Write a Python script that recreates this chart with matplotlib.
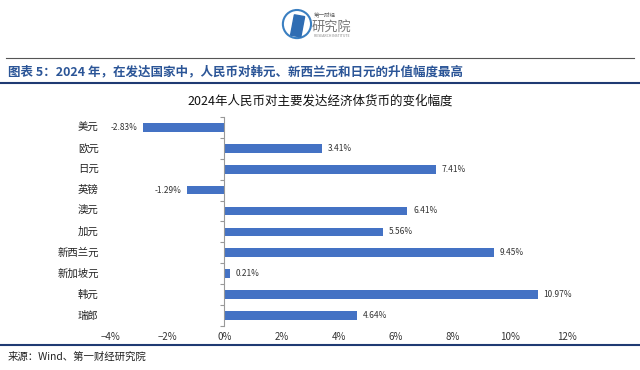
import matplotlib.pyplot as plt
import matplotlib.patches as mpatches
import matplotlib.transforms as mtransforms
from matplotlib.ticker import FixedLocator, FuncFormatter

plt.rcParams['font.family'] = ['Noto Sans CJK SC', 'DejaVu Sans']

currencies = ['美元', '欧元', '日元', '英镑', '澳元', '加元', '新西兰元', '新加坡元', '韩元', '瑞郎']
changes = [-2.83, 3.41, 7.41, -1.29, 6.41, 5.56, 9.45, 0.21, 10.97, 4.64]
x_ticks = [-4, -2, 0, 2, 4, 6, 8, 10, 12]

heading = '图表 5：2024 年，在发达国家中，人民币对韩元、新西兰元和日元的升值幅度最高'
chart_title = '2024年人民币对主要发达经济体货币的变化幅度'
source = '来源：Wind、第一财经研究院'

bar_color = '#4472C4'
navy = '#1F3A73'

fig = plt.figure(figsize=(6.4, 3.7), dpi=100)

# header logo (rough)
logo = mpatches.Ellipse((0.464, 0.935), 0.044, 0.076, transform=fig.transFigure,
                        fill=False, edgecolor='#3a7fc1', linewidth=1.5)
fig.patches.append(logo)
para = mpatches.Polygon([[0.454, 0.905], [0.460, 0.960], [0.476, 0.955], [0.470, 0.900]],
                        closed=True, transform=fig.transFigure, color='#2f6db3')
fig.patches.append(para)
fig.text(0.490, 0.962, '第一财经', fontsize=4, color='#666666', va='center')
fig.text(0.487, 0.927, '研究院', fontsize=9.5, color='#777777', va='center')
fig.text(0.490, 0.903, 'RESEARCH INSTITUTE', fontsize=2.5, color='#888888', va='center')

# separator lines
fig.add_artist(plt.Line2D([0.01, 0.99], [0.843, 0.843], transform=fig.transFigure,
                          color='#555555', linewidth=0.8))
fig.text(0.012, 0.805, heading, fontsize=9, color='#2B5597', weight='bold', va='center')
fig.add_artist(plt.Line2D([0.0, 1.0], [0.775, 0.775], transform=fig.transFigure,
                          color=navy, linewidth=1.5))
fig.text(0.5, 0.728, chart_title, fontsize=9, ha='center', va='center', color='#111111')

ax = fig.add_axes([0.172, 0.119, 0.714, 0.565])
y = list(range(len(currencies)))
ax.barh(y, changes, height=0.42, color=bar_color)
ax.set_ylim(len(currencies) - 0.5, -0.5)
ax.set_xlim(-4, 12)

for i, v in enumerate(changes):
    if v >= 0:
        ax.text(v + 0.2, i, f'{v:.2f}%', fontsize=6, va='center', ha='left', color='#333333')
    else:
        ax.text(v - 0.2, i, f'{v:.2f}%', fontsize=6, va='center', ha='right', color='#333333')

trans = mtransforms.blended_transform_factory(ax.transAxes, ax.transData)
for i, name in enumerate(currencies):
    ax.text(-0.025, i, name, transform=trans, fontsize=7.5, ha='right', va='center',
            color='#222222')

for s in ['top', 'right', 'bottom']:
    ax.spines[s].set_visible(False)
ax.spines['left'].set_position(('data', 0))
ax.spines['left'].set_color('#999999')
ax.spines['left'].set_linewidth(0.8)

ax.set_yticks([i - 0.5 for i in range(len(currencies) + 1)])
ax.set_yticklabels([])
ax.tick_params(axis='y', direction='out', length=3, color='#999999', width=0.8)

ax.xaxis.set_major_locator(FixedLocator(x_ticks))
ax.xaxis.set_major_formatter(FuncFormatter(lambda v, p: f'{v:.0f}%'.replace('-', '−')))
ax.tick_params(axis='x', length=0, labelsize=7, labelcolor='#333333', pad=4)

# bottom lines and source
fig.add_artist(plt.Line2D([0.0, 1.0], [0.068, 0.068], transform=fig.transFigure,
                          color=navy, linewidth=1.5))
fig.text(0.012, 0.035, source, fontsize=7.5, color='#222222', va='center')

fig.savefig('out.png', dpi=100)
